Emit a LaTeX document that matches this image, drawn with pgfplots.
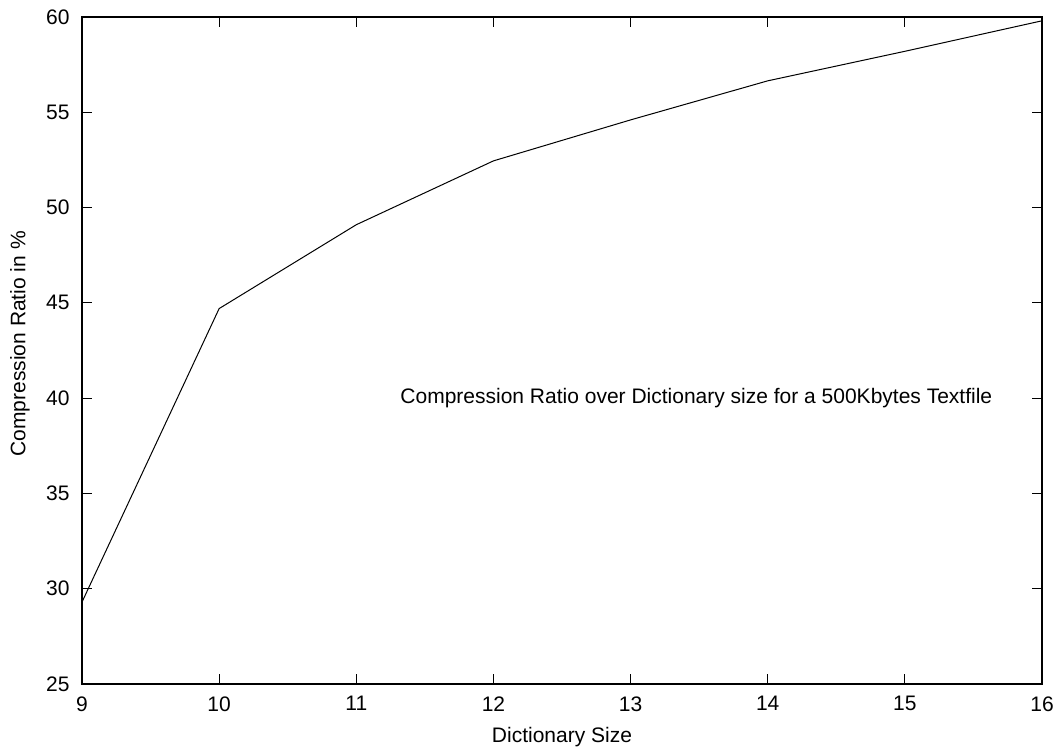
\documentclass[border=0pt]{standalone}
\usepackage{fontspec}
\setmainfont{Liberation Sans}
\usepackage{pgfplots}
\pgfplotsset{compat=1.18}
\begin{document}
\fontsize{10.5}{12.6}\selectfont
\begin{tikzpicture}
\begin{axis}[
  scale only axis,
  width=480pt, height=333.5pt,
  xmin=9, xmax=16, ymin=25, ymax=60,
  xtick={9,10,...,16}, ytick={25,30,...,60},
  tick align=inside,
  major tick length=5pt,
  every tick/.style={black, line width=0.5pt},
  axis line style={line width=1pt},
  /pgf/number format/assume math mode=true,
  ticklabel style={font=\fontsize{10.5}{12.6}\selectfont},
  yticklabel style={xshift=-2.5pt},
  xticklabel style={yshift=-2.5pt},
  xlabel={Dictionary Size},
  ylabel={Compression Ratio in \%},
  xlabel style={at={(axis description cs:0.5,-0.0795)}, anchor=center, font=\fontsize{10.5}{12.6}\selectfont},
  ylabel style={at={(axis description cs:-0.0646,0.51)}, anchor=center, font=\fontsize{10.5}{12.6}\selectfont},
  clip=true,
]
\addplot[black, line width=0.5pt, mark=none] coordinates {
  (9,29.3) (10,44.7) (11,49.1) (12,52.45) (13,54.6) (14,56.65) (15,58.2) (16,59.8)
};
\node[anchor=east, inner sep=0pt, font=\fontsize{10.5}{12.6}\selectfont] at (axis cs:15.64,40) {Compression Ratio over Dictionary size for a 500Kbytes Textfile};
\end{axis}
\pgfresetboundingbox
\path ([shift={(-41pt,-32.5pt)}]current axis.south west) rectangle ([shift={(8.5pt,8.5pt)}]current axis.north east);
\end{tikzpicture}
\end{document}
